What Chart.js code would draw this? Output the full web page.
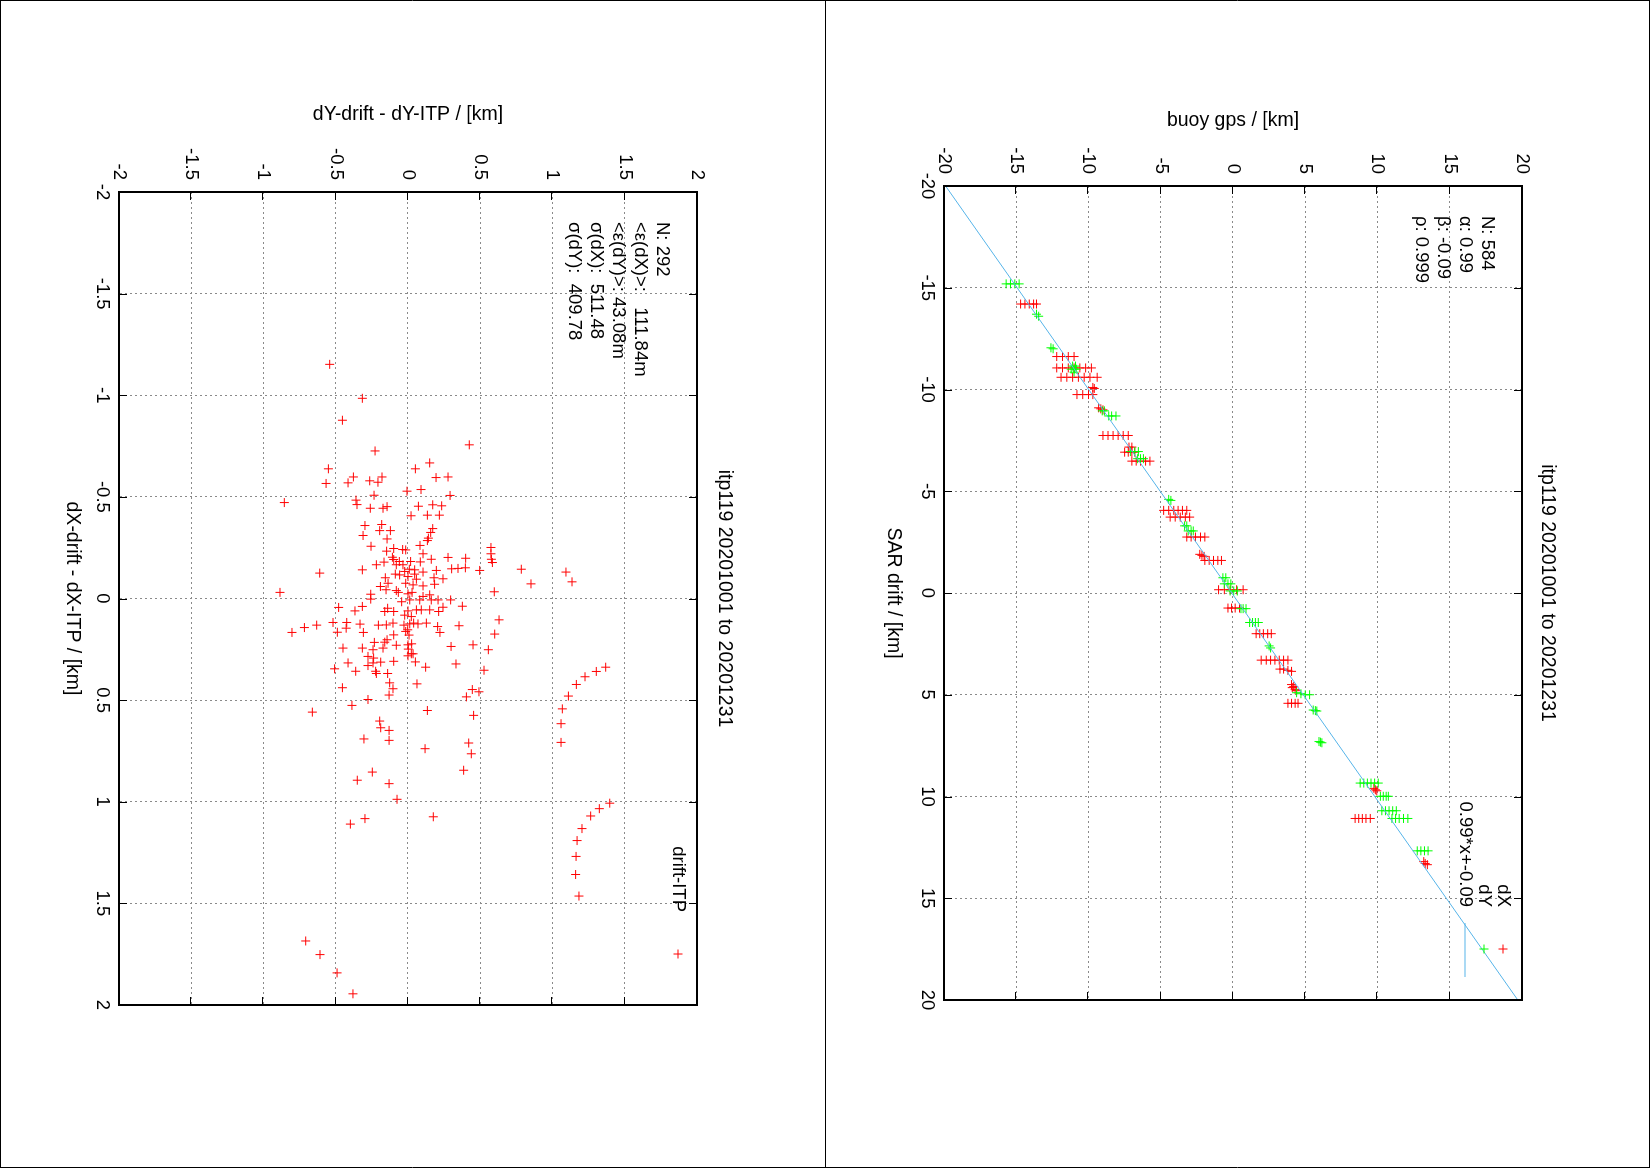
<!DOCTYPE html>
<html>
<head>
<meta charset="utf-8">
<script src="https://cdn.jsdelivr.net/npm/chart.js@4.4.1/dist/chart.umd.min.js"></script>
<style>
  html, body { margin: 0; padding: 0; background: #fff; overflow: hidden; }
  /* gnuplot page was printed portrait and turned a quarter clockwise */
  #page {
    position: absolute; left: 0; top: 0;
    width: 1168px; height: 1650px;
    transform-origin: 0 0;
    transform: translate(1650px, 0) rotate(90deg);
  }
  #page canvas { display: block; }
</style>
</head>
<body>
<div id="page">
  <canvas id="buoyChart" width="1168" height="825"></canvas>
  <canvas id="itpChart" width="1168" height="825"></canvas>
</div>
<script>
// ---- data: SAR drift vs buoy gps (km) ----
const sarDx = [
  -14.2,-14.2,-14.2,-14.2,-14.2,
  -11.62,-11.62,-11.62,-11.62,
  -11.06,-11.06,-11.06,-11.06,-11.06,-11.06,-11.06,
  -10.6,-10.6,-10.6,-10.6,-10.6,-10.6,-10.6,
  -10.1,-10.05,
  -9.75,-9.75,-9.75,-9.75,
  -9.1,-9.05,-9.0,
  -7.74,-7.74,-7.74,-7.74,-7.74,-7.74,
  -7.17,-7.17,-6.92,-6.92,-6.92,-6.92,
  -6.48,-6.48,-6.48,-6.48,-6.48,
  -4.06,-4.06,-4.06,-4.06,-4.06,-4.06,
  -3.73,-3.73,-3.73,-3.73,-3.73,
  -2.75,-2.75,-2.75,-2.75,-2.75,
  -1.9,-1.85,-1.8,
  -1.6,-1.6,-1.6,-1.6,-1.6,
  -0.16,-0.16,-0.16,-0.16,-0.16,
  0.74,0.74,0.74,0.74,
  2.0,2.0,2.0,2.0,2.0,
  3.3,3.3,3.3,3.3,3.3,3.3,3.3,
  3.74,3.74,3.8,3.85,
  4.5,4.6,4.65,4.75,4.8,
  5.42,5.42,5.42,5.42,
  9.6,9.67,9.72,
  11.08,11.08,11.08,11.08,11.08,
  13.2,13.29,13.35
];
const gpsDx = [
  -14.7,-14.4,-14.1,-13.8,-13.6,
  -12.2,-11.8,-11.4,-11.0,
  -12.2,-11.8,-11.4,-11.0,-10.6,-10.2,-9.8,
  -11.9,-11.5,-11.1,-10.7,-10.3,-9.9,-9.4,
  -9.7,-9.6,
  -10.8,-10.4,-10.0,-9.7,
  -9.3,-9.15,-9.0,
  -9.0,-8.65,-8.3,-7.95,-7.6,-7.25,
  -7.2,-7.0,-7.5,-7.25,-7.0,-6.8,
  -7.0,-6.7,-6.4,-6.05,-5.75,
  -4.8,-4.45,-4.1,-3.8,-3.5,-3.2,
  -4.35,-4.0,-3.65,-3.3,-3.0,
  -3.2,-2.9,-2.6,-2.25,-1.95,
  -2.3,-2.15,-2.0,
  -1.95,-1.65,-1.35,-1.05,-0.8,
  -1.0,-0.6,-0.2,0.25,0.7,
  -0.35,-0.1,0.15,0.45,
  1.6,1.85,2.1,2.4,2.65,
  1.95,2.3,2.6,2.9,3.2,3.5,3.8,
  3.25,3.5,3.8,4.05,
  4.05,4.2,4.1,4.3,4.4,
  3.8,4.05,4.3,4.5,
  9.75,9.85,9.95,
  8.45,8.7,8.95,9.2,9.5,
  13.2,13.3,13.45
];
const sarDy = [
  -15.19,-15.19,-15.19,-15.19,
  -13.7,-13.6,
  -12.05,-12.0,
  -11.15,-11.15,-11.0,-11.0,-11.0,-10.85,
  -8.95,-8.95,-8.7,-8.7,-8.7,
  -6.95,-6.95,-6.95,-6.6,-6.6,-6.6,
  -4.6,-4.55,
  -3.3,-3.3,-3.05,-3.05,-3.05,
  -0.75,-0.75,-0.45,-0.45,-0.45,-0.1,-0.1,-0.1,
  0.77,0.77,0.77,
  1.45,1.45,1.45,1.45,
  2.6,2.7,
  4.9,4.95,5.0,5.0,
  5.75,5.78,5.8,
  7.3,7.33,7.36,
  9.34,9.34,9.34,9.34,9.34,9.34,
  9.99,9.99,9.99,9.99,
  10.7,10.7,10.7,10.7,10.7,
  11.08,11.08,11.08,11.08,11.08,
  12.67,12.67,12.67,12.67
];
const gpsDy = [
  -15.7,-15.4,-15.1,-14.8,
  -13.6,-13.45,
  -12.6,-12.45,
  -11.1,-10.9,-11.2,-11.0,-10.85,-11.0,
  -9.05,-8.9,-8.6,-8.4,-8.1,
  -7.1,-6.8,-6.55,-6.6,-6.4,-6.2,
  -4.45,-4.3,
  -3.35,-3.2,-3.1,-2.9,-2.75,
  -0.7,-0.5,-0.6,-0.35,-0.15,-0.2,0.05,0.3,
  0.55,0.7,0.9,
  1.15,1.35,1.55,1.75,
  2.5,2.6,
  4.4,4.7,5.0,5.3,
  5.55,5.7,5.8,
  5.95,6.05,6.15,
  8.8,9.05,9.3,9.55,9.8,10.05,
  10.2,10.4,10.6,10.75,
  10.3,10.55,10.8,11.05,11.3,
  11.0,11.25,11.5,11.8,12.1,
  12.75,13.0,13.25,13.5
];
// fit line 0.99*x-0.09 at the plot edges
const fitX = [-20, 20];
const fitY = [-19.89, 19.71];

// ---- data: drift minus ITP (km) ----
const itpDx = [
  -1.152,-0.985,-0.877,-0.756,-0.726,-0.667,-0.638,-0.638,-0.598,-0.598,
  -0.595,-0.598,-0.566,-0.569,-0.579,-0.572,-0.528,-0.536,-0.508,-0.507,
  -0.472,-0.484,-0.462,-0.444,-0.444,-0.452,-0.454,-0.461,-0.456,-0.407,
  -0.410,-0.410,-0.359,-0.364,-0.334,-0.334,-0.344,-0.325,-0.310,-0.293,
  -0.297,-0.285,-0.257,-0.246,-0.241,-0.233,-0.261,-0.251,-0.220,-0.193,
  -0.177,-0.220,-0.202,-0.198,-0.193,-0.192,-0.179,-0.166,-0.182,-0.182,
  -0.180,-0.141,-0.125,-0.148,-0.151,-0.146,-0.138,-0.144,-0.130,-0.082,
  -0.072,-0.033,-0.030,-0.138,-0.097,-0.102,-0.130,-0.144,-0.120,-0.133,
  -0.120,-0.102,-0.075,-0.059,-0.075,-0.067,-0.062,-0.070,-0.030,-0.030,
  -0.043,-0.021,0.003,-0.010,-0.018,0.007,0.038,0.043,0.044,0.061,
  0.039,0.048,0.016,0.061,0.056,0.056,0.064,0.064,0.082,0.064,
  0.105,0.134,0.167,0.143,0.131,0.118,0.166,0.118,0.146,0.126,
  0.167,0.131,0.121,0.131,0.121,0.121,0.138,0.167,0.175,0.179,
  0.154,0.180,0.244,0.244,0.216,0.215,0.230,0.223,0.236,0.228,
  0.252,0.252,0.249,0.272,
  -0.239,-0.203,-0.166,-0.166,-0.141,-0.116,-0.108,-0.095,-0.039,-0.023,
  0.007,0.007,0.007,0.007,0.056,0.089,0.125,0.125,0.130,0.162,
  0.203,0.228,0.272,0.244,0.285,0.293,0.282,
  0.317,0.317,0.313,0.309,0.312,0.330,0.346,0.358,0.358,0.369,
  0.369,0.338,0.322,0.353,0.420,0.415,0.444,0.439,0.475,0.448,
  0.459,0.484,0.338,0.359,0.385,0.423,0.480,0.543,0.616,0.708,
  0.497,0.526,0.559,0.551,0.575,0.603,0.636,0.649,0.698,0.691,
  0.739,0.711,0.764,0.845,0.854,0.894,0.911,0.988,1.083,1.110,
  1.074,1.007,1.034,1.070,1.132,1.191,1.269,1.358,1.464,1.685,
  1.752,1.842,1.945
];
const itpDy = [
  -0.542,-0.316,-0.454,0.424,-0.228,0.150,0.051,-0.551,-0.378,-0.180,
  0.194,0.277,-0.567,-0.415,-0.265,-0.208,-0.007,0.090,-0.235,0.291,
  -0.856,-0.360,-0.353,-0.261,-0.173,-0.145,0.072,0.171,0.233,0.021,
  0.134,0.217,-0.298,-0.182,-0.196,-0.122,0.171,0.157,-0.311,-0.145,
  0.141,0.134,-0.256,-0.099,-0.037,-0.148,0.083,0.574,0.574,0.577,
  0.584,0.104,0.277,0.399,0.161,-0.099,-0.166,-0.219,-0.060,0.018,
  0.085,-0.316,-0.611,0.346,0.397,0.302,0.496,0.784,1.093,1.135,
  0.851,0.597,-0.886,0.196,0.242,0.180,0.104,0.009,0.046,-0.023,
  -0.088,-0.157,-0.138,-0.191,-0.016,0.035,0.104,0.184,0.028,-0.067,
  -0.152,-0.258,-0.258,0.104,0.150,0.295,0.376,0.242,-0.480,-0.367,
  -0.316,-0.141,-0.044,0.000,0.058,0.150,0.212,-0.099,-0.023,-0.161,
  0.630,0.353,-0.803,-0.717,-0.632,-0.519,-0.489,-0.424,-0.428,-0.332,
  -0.309,-0.205,-0.104,-0.028,0.039,0.127,0.205,0.221,0.600,-0.099,
  -0.002,0.007,-0.450,-0.316,-0.233,-0.161,-0.081,0.025,0.298,0.450,
  0.556,-0.242,0.002,0.035,
  -0.016,-0.108,-0.081,-0.035,0.046,-0.058,0.000,0.058,-0.081,0.000,
  0.012,0.081,0.161,0.208,0.092,0.023,0.012,0.069,-0.150,-0.016,
  -0.145,0.000,0.023,-0.173,-0.277,-0.238,0.000,
  -0.415,-0.242,-0.189,-0.099,0.051,-0.277,-0.508,-0.362,-0.224,-0.219,
  -0.141,0.122,0.332,0.526,0.062,-0.127,-0.104,-0.454,-0.131,0.445,
  0.491,0.404,1.368,1.303,1.225,1.165,1.110,1.068,1.059,1.059,
  -0.277,-0.388,-0.662,0.134,0.454,-0.196,-0.189,-0.131,-0.131,-0.305,
  0.118,0.420,0.438,0.385,-0.247,-0.351,-0.131,-0.076,-0.298,-0.399,
  0.175,1.396,1.324,1.264,1.204,1.170,1.163,1.160,1.183,-0.708,
  -0.609,-0.491,-0.381
];

const buoyRange = [-20, 20], buoyStep = 5;
const itpRange = [-2, 2], itpStep = 0.5;

const FONT = '"Liberation Sans", Arial, sans-serif';
const RED = '#ff0000', GREEN = '#00ff00', BLUE = '#56b4e9';

const pts = (xs, ys) => xs.map((x, i) => ({x: x, y: ys[i]}));

// gnuplot-like frame: inner ticks, heavy border, labels, key, page rule
const gnuFrame = {
  id: 'gnuFrame',
  afterDatasetsDraw(chart, args, o) {
    const {ctx, chartArea: a, scales: {x, y}} = chart;
    ctx.save();
    ctx.strokeStyle = '#000';
    ctx.lineWidth = 1;
    ctx.beginPath();
    x.ticks.forEach(t => {
      const p = Math.round(x.getPixelForValue(t.value)) + 0.5;
      ctx.moveTo(p, a.bottom); ctx.lineTo(p, a.bottom - 8);
      ctx.moveTo(p, a.top); ctx.lineTo(p, a.top + 8);
    });
    y.ticks.forEach(t => {
      const p = Math.round(y.getPixelForValue(t.value)) + 0.5;
      ctx.moveTo(a.left, p); ctx.lineTo(a.left + 8, p);
      ctx.moveTo(a.right, p); ctx.lineTo(a.right - 8, p);
    });
    ctx.stroke();
    ctx.lineWidth = 2;
    ctx.strokeRect(a.left, a.top, a.right - a.left, a.bottom - a.top);
    ctx.restore();
  },
  afterDraw(chart, args, o) {
    const {ctx, chartArea: a, width: W, height: H} = chart;
    const cx = (a.left + a.right) / 2;
    ctx.save();
    ctx.fillStyle = '#000';
    ctx.textBaseline = 'middle';
    ctx.textAlign = 'center';
    ctx.font = '19.5px ' + FONT;
    ctx.fillText(o.title, cx, o.titleY);
    ctx.fillText(o.xLabel, cx, o.xLabelY);
    ctx.save();
    ctx.translate(o.yLabelX, (a.top + a.bottom) / 2);
    ctx.rotate(-Math.PI / 2);
    ctx.fillText(o.yLabel, 0, 0);
    ctx.restore();

    ctx.font = '18.5px ' + FONT;
    ctx.textAlign = 'left';
    o.stats.forEach((s, i) => ctx.fillText(s, a.left + 30, a.top + 35 + i * 22));

    ctx.textAlign = 'right';
    o.key.forEach((k, i) => {
      const ky = a.top + 19 + i * 19;
      ctx.fillStyle = '#000';
      ctx.fillText(k.text, a.right - 93, ky);
      ctx.strokeStyle = k.color;
      ctx.lineWidth = 1;
      if (k.line) {
        ctx.beginPath();
        ctx.moveTo(a.right - 77, ky); ctx.lineTo(a.right - 23, ky);
        ctx.stroke();
      } else {
        ctx.fillStyle = k.color;
        Chart.helpers.drawPoint(ctx, {pointStyle: 'cross', radius: 4.5, rotation: 0, borderWidth: 1}, a.right - 51, ky);
      }
    });

    // page rule
    ctx.strokeStyle = '#000';
    ctx.lineWidth = 1;
    ctx.beginPath();
    ctx.moveTo(0.5, 0); ctx.lineTo(0.5, H);
    ctx.moveTo(W - 0.5, 0); ctx.lineTo(W - 0.5, H);
    if (o.ruleTop) { ctx.moveTo(0, 0.5); ctx.lineTo(W, 0.5); }
    if (o.ruleBottom) { ctx.moveTo(0, H - 0.5); ctx.lineTo(W, H - 0.5); }
    ctx.stroke();
    ctx.restore();
  }
};

function axis(range, step, pos, size) {
  return {
    type: 'linear', position: pos,
    min: range[0], max: range[1],
    ticks: {
      stepSize: step, color: '#000', autoSkip: false, maxRotation: 0,
      font: {family: FONT, size: 18.5},
      padding: pos === 'left' ? 12 : 6,
      callback: v => String(v)   // gnuplot style: 2 not 2.0
    },
    grid: {color: '#8a8a8a', lineWidth: 1, drawTicks: false},
    border: {display: false, dash: [2, 3]},
    afterFit(s) { if (pos === 'left') s.width = size; else s.height = size; }
  };
}

function makeChart(id, datasets, range, step, yWidth, rightPad, frame) {
  return new Chart(document.getElementById(id), {
    type: 'scatter',
    data: {datasets: datasets},
    options: {
      responsive: false, animation: false, devicePixelRatio: 1, events: [],
      layout: {padding: {left: 0, top: 128, right: rightPad, bottom: 69}},
      scales: {x: axis(range, step, 'bottom', 50), y: axis(range, step, 'left', yWidth)},
      plugins: {legend: {display: false}, tooltip: {enabled: false}, gnuFrame: frame}
    },
    plugins: [gnuFrame]
  });
}

const cross = c => ({pointStyle: 'cross', pointRadius: 4.5, borderColor: c, backgroundColor: c, borderWidth: 1});

makeChart('buoyChart', [
  Object.assign({label: 'dX', data: pts(sarDx, gpsDx), order: 2}, cross(RED)),
  Object.assign({label: 'dY', data: pts(sarDy, gpsDy), order: 1}, cross(GREEN)),
  {label: '0.99*x+-0.09', data: pts(fitX, fitY), order: 0, showLine: true,
   borderColor: BLUE, borderWidth: 1, pointRadius: 0}
], buoyRange, buoyStep, 186, 168, {
  title: 'itp119 20201001 to 20201231', titleY: 103,
  xLabel: 'SAR drift / [km]', xLabelY: 757,
  yLabel: 'buoy gps / [km]', yLabelX: 121,
  stats: ['N: 584', 'α: 0.99', 'β: -0.09', 'ρ: 0.999'],
  key: [{text: 'dX', color: RED}, {text: 'dY', color: GREEN}, {text: '0.99*x+-0.09', color: BLUE, line: true}],
  ruleTop: true, ruleBottom: true
});

makeChart('itpChart', [
  Object.assign({label: 'drift-ITP', data: pts(itpDx, itpDy)}, cross(RED))
], itpRange, itpStep, 192, 163, {
  title: 'itp119 20201001 to 20201231', titleY: 101,
  xLabel: 'dX-drift - dX-ITP / [km]', xLabelY: 753,
  yLabel: 'dY-drift - dY-ITP / [km]', yLabelX: 115,
  stats: ['N: 292', '<ε(dX)>:   111.84m', '<ε(dY)>: 43.08m', 'σ(dX):  511.48', 'σ(dY):  409.78'],
  key: [{text: 'drift-ITP', color: RED}],
  ruleTop: false, ruleBottom: true
});
</script>
</body>
</html>
